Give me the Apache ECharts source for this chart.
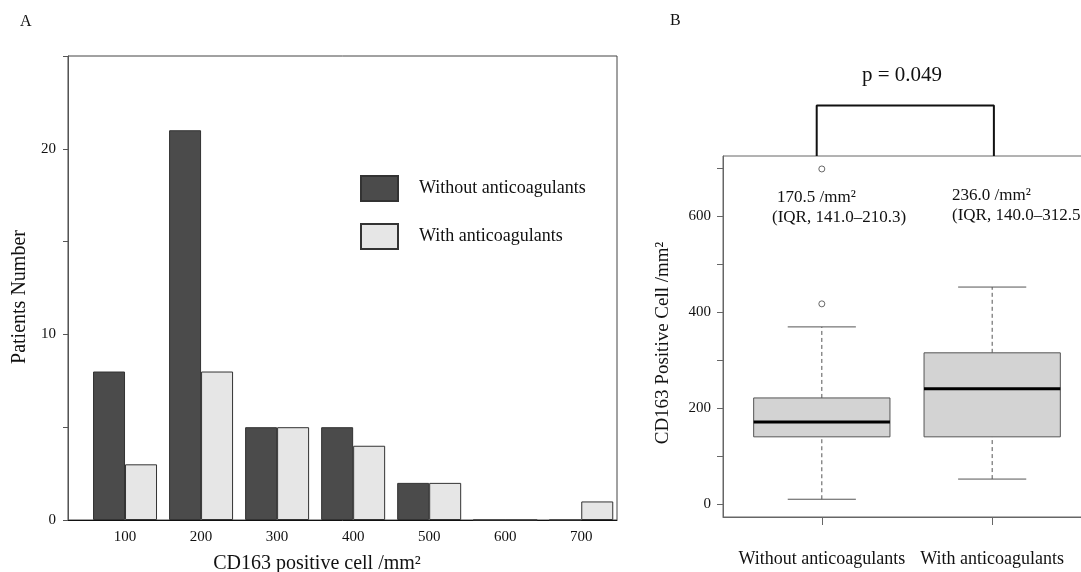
<!DOCTYPE html>
<html lang="en">
<head>
    <meta charset="utf-8">
    <title>CD163 positive cell</title>
    <script src="https://cdn.jsdelivr.net/npm/echarts@6/dist/echarts.min.js"></script>
    <style>
        html, body { margin: 0; padding: 0; background: #fff; }
        #chart { width: 1081px; height: 572px; }
    </style>
</head>
<body>
    <div id="chart"></div>
    <script>
        // -- panel A: histogram counts
        var binLabels = [100, 200, 300, 400, 500, 600, 700];
        var withoutCounts = [8, 21, 5, 5, 2, 0, 0];
        var withCounts = [3, 8, 5, 4, 2, 0, 1];
        var countTicks = [0, 5, 10, 15, 20, 25];
        var countLabels = [0, 10, 20];

        // -- panel B: boxplot (min, Q1, median, Q3, max)
        var groupNames = ['Without anticoagulants', 'With anticoagulants'];
        var groupPos = [1, 2];
        var boxStats = [
            [10, 140, 171, 221, 369],
            [52, 140, 240, 315, 452]
        ];
        var outlierPos = [1, 1];
        var outlierValues = [698, 417];
        var cellTicks = [0, 100, 200, 300, 400, 500, 600, 700];
        var cellLabels = [0, 200, 400, 600];
        var medianNotes = ['170.5 /mm²', '236.0 /mm²'];
        var iqrNotes = ['(IQR, 141.0–210.3)', '(IQR, 140.0–312.5)'];
        var pText = 'p = 0.049';
        var bracketX = [0.97, 2.01];
        var bracketY = 830;

        var serif = 'Liberation Serif, Times New Roman, serif';

        var chart = echarts.init(document.getElementById('chart'));

        var barsWithout = binLabels.map(function (b, i) { return [b, withoutCounts[i]]; });
        var barsWith = binLabels.map(function (b, i) { return [b, withCounts[i]]; });
        var boxData = boxStats.map(function (s, i) { return [groupPos[i]].concat(s); });
        var outlierData = outlierValues.map(function (v, i) { return [outlierPos[i], v]; });

        var option = {
            animation: false,
            textStyle: { fontFamily: serif, color: '#111' },
            grid: [
                { left: 68, right: 464, top: 56, bottom: 52, outerBoundsMode: 'none', containLabel: false,
                  show: true, borderColor: '#444', borderWidth: 1 },
                { left: 723, right: -10, top: 156, bottom: 55, outerBoundsMode: 'none', containLabel: false,
                  show: true, borderColor: '#666', borderWidth: 1 }
            ],
            legend: {
                orient: 'vertical',
                left: 355,
                top: 170,
                itemWidth: 37,
                itemHeight: 25,
                itemGap: 21,
                icon: 'rect',
                data: groupNames,
                formatter: '{t|{name}}',
                textStyle: {
                    fontFamily: serif,
                    fontSize: 18,
                    color: '#111',
                    rich: { t: { fontFamily: serif, fontSize: 18, padding: [0, 0, 0, 16] } }
                }
            },
            xAxis: [{
                gridIndex: 0,
                type: 'value',
                min: 25,
                max: 747,
                splitLine: { show: false },
                axisLine: { show: true, onZero: false, lineStyle: { color: '#111' } },
                axisTick: { show: false },
                axisLabel: { customValues: binLabels, fontSize: 15, color: '#111', margin: 10, fontFamily: serif },
                name: 'CD163 positive cell /mm²',
                nameLocation: 'middle',
                nameGap: 34,
                nameTextStyle: { fontSize: 20, color: '#111', fontFamily: serif, padding: [0, 51, 0, 0] }
            }, {
                gridIndex: 1,
                type: 'value',
                min: 0.42,
                max: 2.58,
                splitLine: { show: false },
                axisLine: { show: true, onZero: false, lineStyle: { color: '#666' } },
                axisTick: { show: true, customValues: groupPos, length: 8, lineStyle: { color: '#666' } },
                axisLabel: {
                    customValues: groupPos,
                    fontSize: 18,
                    color: '#111',
                    margin: 33,
                    fontFamily: serif,
                    formatter: function (v) { return groupNames[groupPos.indexOf(v)] || ''; }
                }
            }],
            yAxis: [{
                gridIndex: 0,
                type: 'value',
                min: 0,
                max: 25,
                interval: 5,
                splitLine: { show: false },
                axisLine: { show: true, onZero: false, lineStyle: { color: '#555' } },
                axisTick: { show: true, length: 5, lineStyle: { color: '#555' } },
                axisLabel: {
                    fontSize: 15,
                    color: '#111',
                    margin: 12,
                    fontFamily: serif,
                    formatter: function (v) { return countLabels.indexOf(v) >= 0 ? String(v) : ''; }
                },
                name: 'Patients Number',
                nameLocation: 'middle',
                nameGap: 38,
                nameTextStyle: { fontSize: 20, color: '#111', fontFamily: serif, padding: [0, 18, 0, 0] }
            }, {
                gridIndex: 1,
                type: 'value',
                min: -27,
                max: 725,
                splitLine: { show: false },
                axisLine: { show: true, onZero: false, lineStyle: { color: '#666' } },
                axisTick: { show: true, customValues: cellTicks, length: 6, lineStyle: { color: '#666' } },
                axisLabel: { customValues: cellLabels, fontSize: 15, color: '#111', margin: 12, fontFamily: serif },
                name: 'CD163 Positive Cell /mm²',
                nameLocation: 'middle',
                nameGap: 50,
                nameTextStyle: { fontSize: 19, color: '#111', fontFamily: serif, padding: [0, 13, 0, 0] }
            }],
            series: [{
                name: groupNames[0],
                type: 'bar',
                xAxisIndex: 0,
                yAxisIndex: 0,
                barWidth: 32,
                barGap: '0%',
                data: barsWithout,
                itemStyle: { color: '#4b4b4b', borderColor: '#333', borderWidth: 1 }
            }, {
                name: groupNames[1],
                type: 'bar',
                xAxisIndex: 0,
                yAxisIndex: 0,
                barWidth: 32,
                barGap: '0%',
                data: barsWith,
                itemStyle: { color: '#e6e6e6', borderColor: '#333', borderWidth: 1 }
            }, {
                // boxes with dashed whiskers
                type: 'custom',
                xAxisIndex: 1,
                yAxisIndex: 1,
                encode: { x: 0, y: [1, 2, 3, 4, 5] },
                data: boxData,
                renderItem: function (params, api) {
                    var x = api.value(0);
                    var lo = api.coord([x, api.value(1)]);
                    var q1 = api.coord([x, api.value(2)]);
                    var md = api.coord([x, api.value(3)]);
                    var q3 = api.coord([x, api.value(4)]);
                    var hi = api.coord([x, api.value(5)]);
                    var unit = api.size([1, 0])[0];
                    var bw = unit * 0.8, cw = unit * 0.4;
                    var cx = lo[0];
                    var line = function (x1, y1, x2, y2, style) {
                        return { type: 'line', shape: { x1: x1, y1: y1, x2: x2, y2: y2 }, style: style };
                    };
                    var thin = { stroke: '#555', lineWidth: 1 };
                    var dash = { stroke: '#555', lineWidth: 1, lineDash: [4, 3] };
                    return {
                        type: 'group',
                        children: [
                            line(cx, lo[1], cx, q1[1], dash),
                            line(cx, q3[1], cx, hi[1], dash),
                            line(cx - cw / 2, lo[1], cx + cw / 2, lo[1], thin),
                            line(cx - cw / 2, hi[1], cx + cw / 2, hi[1], thin),
                            {
                                type: 'rect',
                                shape: { x: cx - bw / 2, y: q3[1], width: bw, height: q1[1] - q3[1] },
                                style: { fill: '#d3d3d3', stroke: '#555', lineWidth: 1 }
                            },
                            line(cx - bw / 2, md[1], cx + bw / 2, md[1], { stroke: '#000', lineWidth: 3 })
                        ]
                    };
                }
            }, {
                type: 'scatter',
                xAxisIndex: 1,
                yAxisIndex: 1,
                symbol: 'circle',
                symbolSize: 6,
                data: outlierData,
                itemStyle: { color: '#fff', borderColor: '#444', borderWidth: 1 }
            }, {
                // significance bracket above the plot
                type: 'line',
                xAxisIndex: 1,
                yAxisIndex: 1,
                clip: false,
                symbol: 'none',
                data: [[bracketX[0], 725], [bracketX[0], bracketY], [bracketX[1], bracketY], [bracketX[1], 725]],
                lineStyle: { color: '#111', width: 2 }
            }],
            graphic: [
                { type: 'text', left: 20, top: 14, style: { text: 'A', font: '16px ' + serif, fill: '#111' } },
                { type: 'text', left: 670, top: 13, style: { text: 'B', font: '16px ' + serif, fill: '#111' } },
                { type: 'text', left: 862, top: 65, style: { text: pText, font: '21px ' + serif, fill: '#111' } },
                { type: 'text', left: 777, top: 189, style: { text: medianNotes[0], font: '17px ' + serif, fill: '#111' } },
                { type: 'text', left: 772, top: 209, style: { text: iqrNotes[0], font: '17px ' + serif, fill: '#111' } },
                { type: 'text', left: 952, top: 187, style: { text: medianNotes[1], font: '17px ' + serif, fill: '#111' } },
                { type: 'text', left: 952, top: 207, style: { text: iqrNotes[1], font: '17px ' + serif, fill: '#111' } }
            ]
        };

        chart.setOption(option, true);
    </script>
</body>
</html>
